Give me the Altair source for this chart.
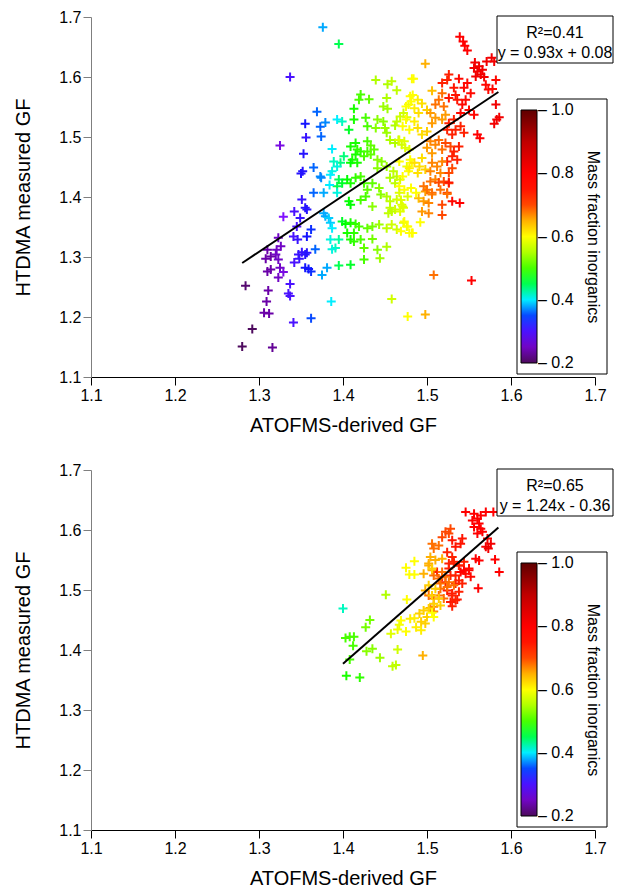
import altair as alt
import pandas as pd

FONT = "Liberation Sans"

# ---------------- top panel data ----------------
top_x = [
    1.376, 1.395, 1.337, 1.325, 1.439, 1.453, 1.458, 1.464, 1.482, 1.421,
    1.419, 1.431, 1.452, 1.369, 1.355, 1.373, 1.379, 1.356, 1.374, 1.393,
    1.399, 1.407, 1.413, 1.413, 1.427, 1.429, 1.441, 1.448, 1.450, 1.439,
    1.448, 1.453, 1.462, 1.464, 1.468, 1.472, 1.476, 1.478, 1.480, 1.452,
    1.353, 1.387, 1.415, 1.409, 1.417, 1.421, 1.429, 1.433, 1.437, 1.429,
    1.425, 1.433, 1.415, 1.411, 1.409, 1.417, 1.401, 1.397, 1.389, 1.393,
    1.387, 1.385, 1.441, 1.446, 1.452, 1.441, 1.456, 1.462, 1.466, 1.470,
    1.474, 1.480, 1.476, 1.478, 1.482, 1.460, 1.464, 1.456, 1.462, 1.468,
    1.365, 1.373, 1.374, 1.350, 1.352, 1.395, 1.399, 1.393, 1.405, 1.409,
    1.415, 1.421, 1.425, 1.435, 1.429, 1.443, 1.445, 1.384, 1.365, 1.377,
    1.393, 1.407, 1.409, 1.421, 1.427, 1.435, 1.452, 1.456, 1.464, 1.470,
    1.456, 1.462, 1.454, 1.458, 1.468, 1.472, 1.351, 1.342, 1.355, 1.357,
    1.377, 1.379, 1.383, 1.385, 1.387, 1.349, 1.345, 1.341, 1.346, 1.357,
    1.362, 1.329, 1.323, 1.321, 1.326, 1.320, 1.310, 1.308, 1.314, 1.323,
    1.310, 1.314, 1.325, 1.329, 1.323, 1.399, 1.403, 1.409, 1.415, 1.419,
    1.413, 1.405, 1.409, 1.413, 1.421, 1.429, 1.435, 1.443, 1.435, 1.425,
    1.441, 1.452, 1.452, 1.458, 1.464, 1.472, 1.476, 1.482, 1.385, 1.391,
    1.387, 1.395, 1.367, 1.351, 1.357, 1.355, 1.347, 1.342, 1.348, 1.355,
    1.362, 1.359, 1.375, 1.381, 1.395, 1.409, 1.425, 1.444, 1.337, 1.337,
    1.335, 1.311, 1.309, 1.306, 1.312, 1.284, 1.292, 1.280, 1.316, 1.341,
    1.362, 1.386, 1.458, 1.477,
    1.539, 1.543, 1.545, 1.548, 1.498, 1.484, 1.506,
    1.557, 1.562, 1.556, 1.560, 1.566, 1.564, 1.558, 1.568, 1.571, 1.577, 1.580,
    1.538, 1.548, 1.544, 1.552, 1.570, 1.573, 1.578, 1.582,
    1.526, 1.524, 1.518, 1.532, 1.534, 1.526, 1.536,
    1.546, 1.542, 1.550, 1.540, 1.556,
    1.582, 1.586, 1.580, 1.583, 1.560, 1.563,
    1.518, 1.514, 1.520, 1.510,
    1.483, 1.489, 1.481, 1.475, 1.485, 1.494, 1.500, 1.490,
    1.504, 1.510, 1.506, 1.518, 1.522,
    1.526, 1.532, 1.524, 1.534, 1.530, 1.540, 1.544,
    1.475, 1.479, 1.471, 1.485, 1.489, 1.494, 1.500,
    1.467, 1.473, 1.479,
    1.504, 1.510, 1.500, 1.514, 1.518, 1.506, 1.522, 1.528,
    1.532, 1.538, 1.530, 1.536, 1.524,
    1.485, 1.491, 1.479, 1.494, 1.489, 1.498,
    1.506, 1.512, 1.504, 1.516, 1.510, 1.518,
    1.526, 1.520, 1.526, 1.530,
    1.467, 1.471, 1.467, 1.473, 1.481, 1.487,
    1.498, 1.506, 1.524,
    1.504, 1.514, 1.526,
    1.496, 1.500, 1.506, 1.516, 1.524,
    1.490, 1.496, 1.502, 1.494, 1.502, 1.518, 1.518,
    1.530, 1.539,
    1.477, 1.469, 1.471, 1.467,
    1.473, 1.477, 1.469, 1.479, 1.483, 1.492,
    1.508, 1.553,
    1.498,
]
top_y = [
    1.683, 1.655, 1.600, 1.486, 1.595, 1.588, 1.593, 1.578, 1.597, 1.571,
    1.562, 1.563, 1.565, 1.542, 1.522, 1.517, 1.524, 1.499, 1.501, 1.529,
    1.526, 1.512, 1.547, 1.529, 1.532, 1.518, 1.529, 1.526, 1.515, 1.515,
    1.551, 1.547, 1.519, 1.526, 1.534, 1.540, 1.533, 1.554, 1.568, 1.507,
    1.472, 1.480, 1.490, 1.484, 1.479, 1.476, 1.493, 1.486, 1.479, 1.476,
    1.468, 1.471, 1.471, 1.462, 1.457, 1.457, 1.468, 1.457, 1.459, 1.451,
    1.443, 1.437, 1.462, 1.459, 1.451, 1.448, 1.495, 1.490, 1.495, 1.487,
    1.482, 1.462, 1.451, 1.443, 1.457, 1.443, 1.434, 1.432, 1.423, 1.429,
    1.449, 1.434, 1.432, 1.439, 1.443, 1.429, 1.423, 1.418, 1.429, 1.423,
    1.432, 1.434, 1.423, 1.423, 1.412, 1.415, 1.404, 1.420, 1.407, 1.407,
    1.407, 1.393, 1.387, 1.395, 1.401, 1.384, 1.401, 1.393, 1.396, 1.387,
    1.382, 1.379, 1.373, 1.376, 1.376, 1.382, 1.396, 1.376, 1.382, 1.379,
    1.373, 1.368, 1.365, 1.357, 1.348, 1.365, 1.351, 1.334, 1.329, 1.334,
    1.346, 1.367, 1.332, 1.312, 1.318, 1.304, 1.312, 1.297, 1.301, 1.296,
    1.276, 1.279, 1.282, 1.275, 1.266, 1.359, 1.355, 1.357, 1.355, 1.351,
    1.340, 1.340, 1.329, 1.326, 1.329, 1.348, 1.351, 1.354, 1.330, 1.315,
    1.312, 1.317, 1.348, 1.354, 1.346, 1.357, 1.351, 1.340, 1.329, 1.315,
    1.313, 1.329, 1.313, 1.308, 1.307, 1.304, 1.304, 1.291, 1.297, 1.282,
    1.276, 1.280, 1.270, 1.282, 1.286, 1.287, 1.296, 1.298, 1.255, 1.235,
    1.239, 1.244, 1.226, 1.207, 1.206, 1.252, 1.180, 1.151, 1.149, 1.191,
    1.198, 1.226, 1.230, 1.201,
    1.667, 1.659, 1.652, 1.644, 1.622, 1.597, 1.577,
    1.624, 1.618, 1.615, 1.609, 1.612, 1.604, 1.601, 1.600, 1.626, 1.632, 1.626,
    1.597, 1.590, 1.582, 1.573, 1.587, 1.579, 1.580, 1.595,
    1.604, 1.595, 1.590, 1.582, 1.570, 1.565, 1.562,
    1.562, 1.554, 1.545, 1.540, 1.537,
    1.554, 1.533, 1.522, 1.529, 1.504, 1.498,
    1.573, 1.562, 1.551, 1.554,
    1.570, 1.562, 1.559, 1.551, 1.548, 1.556, 1.545, 1.540,
    1.540, 1.532, 1.523, 1.529, 1.537,
    1.523, 1.529, 1.512, 1.512, 1.504, 1.518, 1.507,
    1.529, 1.512, 1.518, 1.526, 1.515, 1.504, 1.509,
    1.495, 1.493, 1.479,
    1.493, 1.487, 1.482, 1.495, 1.479, 1.473, 1.490, 1.484,
    1.476, 1.484, 1.468, 1.462, 1.459,
    1.457, 1.451, 1.448, 1.465, 1.440, 1.446,
    1.457, 1.451, 1.443, 1.440, 1.429, 1.459,
    1.440, 1.426, 1.423, 1.448,
    1.459, 1.434, 1.418, 1.412, 1.415, 1.407,
    1.409, 1.404, 1.407,
    1.426, 1.424, 1.424,
    1.418, 1.412, 1.407, 1.412, 1.405,
    1.398, 1.393, 1.390, 1.376, 1.373, 1.387, 1.370,
    1.393, 1.390,
    1.401, 1.395, 1.384, 1.407,
    1.359, 1.351, 1.343, 1.340, 1.340, 1.358,
    1.270, 1.261,
    1.204,
]
top_c = [
    0.38, 0.45, 0.30, 0.26, 0.55, 0.55, 0.56, 0.56, 0.60, 0.50,
    0.50, 0.51, 0.55, 0.36, 0.33, 0.36, 0.37, 0.31, 0.36, 0.40,
    0.42, 0.46, 0.48, 0.48, 0.50, 0.50, 0.53, 0.53, 0.54, 0.53,
    0.54, 0.54, 0.55, 0.56, 0.57, 0.57, 0.58, 0.59, 0.60, 0.54,
    0.32, 0.40, 0.48, 0.48, 0.49, 0.49, 0.50, 0.51, 0.51, 0.50,
    0.50, 0.51, 0.48, 0.48, 0.47, 0.48, 0.44, 0.44, 0.42, 0.41,
    0.41, 0.40, 0.53, 0.53, 0.54, 0.53, 0.55, 0.55, 0.56, 0.57,
    0.58, 0.60, 0.59, 0.60, 0.60, 0.56, 0.56, 0.55, 0.56, 0.57,
    0.36, 0.37, 0.37, 0.32, 0.32, 0.45, 0.46, 0.45, 0.47, 0.48,
    0.49, 0.50, 0.50, 0.51, 0.51, 0.53, 0.53, 0.40, 0.36, 0.38,
    0.41, 0.47, 0.47, 0.50, 0.50, 0.53, 0.55, 0.56, 0.57, 0.58,
    0.56, 0.57, 0.56, 0.56, 0.58, 0.58, 0.31, 0.30, 0.32, 0.32,
    0.38, 0.38, 0.39, 0.39, 0.40, 0.31, 0.30, 0.30, 0.31, 0.33,
    0.34, 0.27, 0.25, 0.25, 0.25, 0.25, 0.24, 0.24, 0.24, 0.25,
    0.24, 0.24, 0.25, 0.26, 0.25, 0.46, 0.47, 0.48, 0.49, 0.50,
    0.49, 0.48, 0.48, 0.49, 0.50, 0.51, 0.52, 0.54, 0.52, 0.51,
    0.53, 0.55, 0.56, 0.57, 0.57, 0.58, 0.59, 0.60, 0.41, 0.42,
    0.41, 0.43, 0.36, 0.31, 0.32, 0.32, 0.31, 0.30, 0.31, 0.33,
    0.34, 0.33, 0.38, 0.38, 0.45, 0.46, 0.50, 0.54, 0.30, 0.30,
    0.30, 0.24, 0.24, 0.24, 0.24, 0.21, 0.20, 0.20, 0.23, 0.30,
    0.35, 0.40, 0.57, 0.60,
    0.80, 0.80, 0.80, 0.80, 0.65, 0.60, 0.64,
    0.82, 0.82, 0.82, 0.82, 0.82, 0.82, 0.82, 0.82, 0.82, 0.82, 0.82,
    0.78, 0.78, 0.78, 0.78, 0.78, 0.78, 0.78, 0.78,
    0.72, 0.72, 0.72, 0.75, 0.75, 0.75, 0.75,
    0.78, 0.78, 0.78, 0.78, 0.78,
    0.82, 0.82, 0.82, 0.82, 0.80, 0.80,
    0.68, 0.68, 0.68, 0.68,
    0.60, 0.61, 0.60, 0.60, 0.61, 0.62, 0.63, 0.62,
    0.66, 0.66, 0.66, 0.66, 0.66,
    0.72, 0.72, 0.72, 0.72, 0.72, 0.72, 0.72,
    0.60, 0.60, 0.60, 0.61, 0.62, 0.62, 0.63,
    0.58, 0.58, 0.58,
    0.67, 0.67, 0.66, 0.68, 0.68, 0.66, 0.70, 0.70,
    0.72, 0.72, 0.72, 0.72, 0.72,
    0.62, 0.62, 0.61, 0.62, 0.62, 0.63,
    0.67, 0.67, 0.67, 0.67, 0.67, 0.67,
    0.70, 0.70, 0.70, 0.70,
    0.60, 0.60, 0.60, 0.60, 0.60, 0.60,
    0.66, 0.67, 0.70,
    0.68, 0.70, 0.75,
    0.68, 0.68, 0.68, 0.68, 0.68,
    0.64, 0.66, 0.67, 0.66, 0.67, 0.70, 0.70,
    0.78, 0.80,
    0.58, 0.58, 0.58, 0.58,
    0.60, 0.60, 0.60, 0.60, 0.60, 0.60,
    0.68, 0.80,
    0.65,
]

# ---------------- bottom panel data ----------------
bot_x = [
    1.400, 1.451, 1.432, 1.427, 1.403, 1.408, 1.413, 1.412, 1.408, 1.404, 1.420, 1.428, 1.435, 1.444, 1.459, 1.463, 1.465,
    1.457, 1.465, 1.467, 1.475, 1.469, 1.476,
    1.480, 1.485, 1.487, 1.493, 1.491, 1.496, 1.493, 1.500, 1.498, 1.495,
    1.475, 1.485, 1.479, 1.485, 1.496, 1.502, 1.498, 1.506,
    1.508, 1.504, 1.508, 1.502, 1.508, 1.514, 1.520, 1.516,
    1.512, 1.518, 1.522, 1.526, 1.528, 1.532, 1.534,
    1.524, 1.530, 1.528, 1.536, 1.538, 1.544, 1.550, 1.540,
    1.546, 1.556, 1.564, 1.570, 1.579, 1.554, 1.560, 1.562, 1.556, 1.564, 1.566, 1.560,
    1.572, 1.576, 1.570, 1.573, 1.542, 1.540, 1.530, 1.534,
    1.528, 1.522, 1.518, 1.526, 1.514, 1.508, 1.506,
    1.504, 1.502, 1.510, 1.518, 1.524, 1.530, 1.526, 1.532, 1.538, 1.544,
    1.550, 1.546, 1.552, 1.562, 1.558, 1.581, 1.586, 1.561,
    1.518, 1.522, 1.526, 1.532, 1.524, 1.516, 1.514, 1.508,
    1.534, 1.538, 1.542, 1.538, 1.530, 1.534, 1.530,
    1.506, 1.510, 1.502, 1.506, 1.514, 1.508, 1.516, 1.502, 1.506, 1.508,
]
bot_y = [
    1.469, 1.492, 1.450, 1.438, 1.420, 1.422, 1.422, 1.407, 1.384, 1.357, 1.354, 1.398, 1.402, 1.387, 1.373, 1.375, 1.401,
    1.427, 1.434, 1.442, 1.431, 1.449, 1.484,
    1.452, 1.453, 1.438, 1.433, 1.461, 1.466, 1.447, 1.455, 1.444, 1.391,
    1.537, 1.548, 1.526, 1.526, 1.527, 1.541, 1.499, 1.533,
    1.464, 1.470, 1.472, 1.491, 1.486, 1.491, 1.486, 1.502,
    1.530, 1.522, 1.513, 1.536, 1.524, 1.544, 1.511,
    1.499, 1.494, 1.480, 1.484, 1.541, 1.533, 1.533, 1.530,
    1.630, 1.627, 1.624, 1.630, 1.630, 1.616, 1.619, 1.611, 1.605, 1.602, 1.597, 1.594,
    1.586, 1.577, 1.572, 1.569, 1.586, 1.577, 1.583, 1.572,
    1.602, 1.597, 1.588, 1.594, 1.574, 1.569, 1.577,
    1.555, 1.544, 1.550, 1.552, 1.563, 1.555, 1.544, 1.547, 1.541, 1.547,
    1.536, 1.527, 1.522, 1.549, 1.552, 1.551, 1.530, 1.503,
    1.530, 1.522, 1.513, 1.508, 1.505, 1.511, 1.519, 1.524,
    1.524, 1.516, 1.511, 1.497, 1.491, 1.483, 1.473,
    1.536, 1.502, 1.508, 1.491, 1.486, 1.477, 1.474, 1.469, 1.462, 1.455,
]
bot_c = [
    0.42, 0.55, 0.52, 0.52, 0.50, 0.50, 0.50, 0.50, 0.50, 0.48, 0.49, 0.53, 0.53, 0.54, 0.56, 0.56, 0.57,
    0.58, 0.59, 0.59, 0.60, 0.60, 0.60,
    0.61, 0.61, 0.61, 0.61, 0.63, 0.63, 0.63, 0.63, 0.63, 0.65,
    0.60, 0.60, 0.60, 0.60, 0.65, 0.65, 0.65, 0.65,
    0.67, 0.67, 0.67, 0.68, 0.68, 0.68, 0.68, 0.68,
    0.72, 0.72, 0.72, 0.72, 0.72, 0.72, 0.72,
    0.74, 0.74, 0.74, 0.74, 0.80, 0.80, 0.80, 0.80,
    0.80, 0.80, 0.80, 0.80, 0.80, 0.80, 0.80, 0.80, 0.80, 0.80, 0.80, 0.80,
    0.82, 0.82, 0.82, 0.82, 0.75, 0.75, 0.75, 0.75,
    0.70, 0.70, 0.70, 0.70, 0.68, 0.68, 0.68,
    0.65, 0.65, 0.65, 0.65, 0.72, 0.72, 0.72, 0.72, 0.72, 0.72,
    0.78, 0.78, 0.78, 0.80, 0.80, 0.80, 0.80, 0.80,
    0.68, 0.68, 0.68, 0.68, 0.68, 0.68, 0.68, 0.68,
    0.72, 0.72, 0.72, 0.72, 0.72, 0.72, 0.72,
    0.63, 0.63, 0.63, 0.63, 0.63, 0.63, 0.63, 0.63, 0.60, 0.60,
]

# regression line end points
top_line_x = [1.280, 1.585]
top_line_y = [1.290, 1.575]
bot_line_x = [1.400, 1.585]
bot_line_y = [1.377, 1.604]

top_text = ["R\u00b2=0.41", "y = 0.93x + 0.08"]
bot_text = ["R\u00b2=0.65", "y = 1.24x - 0.36"]

axis_values = [1.1, 1.2, 1.3, 1.4, 1.5, 1.6, 1.7]
legend_values = [0.2, 0.4, 0.6, 0.8, 1.0]
color_domain = [0.199, 0.2, 0.24, 0.27, 0.33, 0.36, 0.4, 0.43, 0.47, 0.51, 0.55, 0.6,
                0.65, 0.68, 0.72, 0.8, 0.9, 1.0, 1.001]
color_range = ["#4e0a5e", "#4e0a5e", "#6a00a8", "#8010ff", "#1414ff", "#0064ff", "#00eeff",
               "#00ffa0", "#00ff00", "#60ff00", "#b0ff00", "#ffff00", "#ffb000",
               "#ff7000", "#ff2000", "#ff0000", "#c00000", "#600000", "#600000"]

CROSS = "M-1,0L1,0M0,-1L0,1"


def panel(xs, ys, cs, lx, ly, texts):
    df = pd.DataFrame({"atofms": xs, "htdma": ys, "frac": cs})
    xsc = alt.Scale(domain=[1.1, 1.7], nice=False, zero=False)
    ysc = alt.Scale(domain=[1.1, 1.7], nice=False, zero=False)
    xax = alt.Axis(values=axis_values, format=".1f", title="ATOFMS-derived GF",
                   grid=False, domainColor="black", tickColor="black",
                   tickSize=8, labelPadding=2, titlePadding=12, labelFlush=False,
                   labelFont=FONT, labelFontSize=16, labelColor="black",
                   titleFont=FONT, titleFontSize=20, titleFontWeight="normal",
                   titleColor="black")
    yax = alt.Axis(values=axis_values, format=".1f", title="HTDMA measured GF",
                   grid=False, domainColor="#7f7f7f", tickColor="#7f7f7f",
                   tickSize=8, labelPadding=2, titlePadding=25, labelFlush=False,
                   labelFont=FONT, labelFontSize=16, labelColor="black",
                   titleFont=FONT, titleFontSize=20, titleFontWeight="normal",
                   titleColor="black")
    legend = alt.Legend(
        title="Mass fraction inorganics", orient="none", legendX=430, legendY=93,
        direction="vertical", gradientLength=253, gradientThickness=16,
        gradientStrokeColor="black", gradientStrokeWidth=1,
        values=legend_values, format=".1f",
        labelExpr="'\u2013 ' + format(datum.value, '.1f')",
        labelFont=FONT, labelFontSize=16, labelColor="black", labelOffset=1,
        labelBaseline="middle", labelOverlap=False,
        titleOrient="right", titleAnchor="middle", titleFont=FONT,
        titleFontSize=16, titleFontWeight="normal", titleColor="black",
        titlePadding=11, titleLimit=400, padding=0,
    )
    pts = alt.Chart(df).mark_point(
        shape=CROSS, filled=False, size=81, strokeWidth=2, opacity=1
    ).encode(
        x=alt.X("atofms:Q", scale=xsc, axis=xax),
        y=alt.Y("htdma:Q", scale=ysc, axis=yax),
        color=alt.Color("frac:Q", scale=alt.Scale(domain=color_domain, range=color_range,
                                                  interpolate="rgb"),
                        legend=legend),
    )
    line = alt.Chart(pd.DataFrame({"atofms": lx, "htdma": ly})).mark_line(
        color="black", strokeWidth=2
    ).encode(x=alt.X("atofms:Q", scale=xsc), y=alt.Y("htdma:Q", scale=ysc))
    ann = pd.DataFrame({"r2": [texts[0]], "eq": [texts[1]]})
    box = alt.Chart(ann).mark_rect(fill="white", stroke="black", strokeWidth=1).encode(
        x=alt.value(406), x2=alt.value(522), y=alt.value(-1), y2=alt.value(46))
    t1 = alt.Chart(ann).mark_text(font=FONT, fontSize=16, color="black").encode(
        text="r2:N", x=alt.value(464), y=alt.value(16))
    t2 = alt.Chart(ann).mark_text(font=FONT, fontSize=16, color="black").encode(
        text="eq:N", x=alt.value(464), y=alt.value(36))
    legbox = alt.Chart(ann).mark_rect(fill="white", stroke="black", strokeWidth=1).encode(
        x=alt.value(426), x2=alt.value(516), y=alt.value(82), y2=alt.value(357))
    return alt.layer(pts, line, box, t1, t2, legbox).properties(width=504, height=360)


top = panel(top_x, top_y, top_c, top_line_x, top_line_y, top_text)
bottom = panel(bot_x, bot_y, bot_c, bot_line_x, bot_line_y, bot_text)

chart = (
    alt.vconcat(top, bottom, spacing=27)
    .resolve_scale(color="independent")
    .resolve_legend(color="independent")
    .properties(padding={"left": 5, "top": 1, "right": 0, "bottom": 0})
    .configure_view(stroke=None)
)

chart.save("out.html", embed_options={"renderer": "svg", "actions": False})
